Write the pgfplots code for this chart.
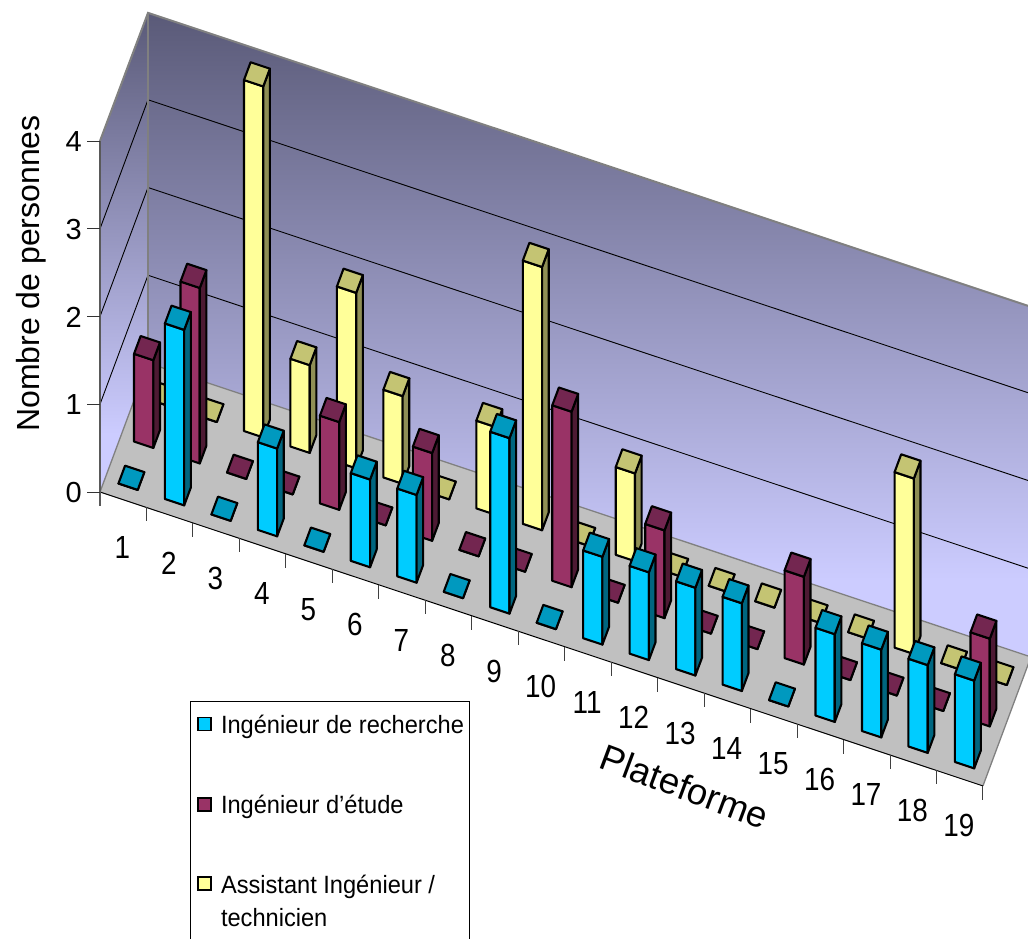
\documentclass[border=0pt]{standalone}
\usepackage{pgfplots}
\pgfplotsset{compat=1.18}
\usepackage{fontspec}
\setmainfont{Liberation Sans}
\definecolor{cF}{HTML}{00CCFF}\definecolor{cS}{HTML}{006680}\definecolor{cT}{HTML}{0099BF}
\definecolor{mF}{HTML}{993366}\definecolor{mS}{HTML}{4D1A33}\definecolor{mT}{HTML}{732650}
\definecolor{yF}{HTML}{FFFF99}\definecolor{yS}{HTML}{8F8F55}\definecolor{yT}{HTML}{C4C473}
\definecolor{wallTop}{HTML}{5A5A78}\definecolor{wallBot}{HTML}{CCCCFF}
\definecolor{floorC}{HTML}{C0C0C0}\definecolor{edgeC}{HTML}{808080}
\pgfdeclareverticalshading{wallshade}{100bp}{color(0bp)=(wallBot);color(31bp)=(wallBot);color(75bp)=(wallTop);color(100bp)=(wallTop)}
\newcommand\tickfont{\fontsize{32}{36}\selectfont}
\newcommand\tl[1]{\scalebox{0.87}[1]{#1}}
\def\rowy{0}\def\rowa{0}\def\colF{cF}\def\colS{cS}\def\colT{cT}
\newcommand\Row[5]{\def\rowy{#1}\def\rowa{#2}\def\colF{#3}\def\colS{#4}\def\colT{#5}}
% one bar: platform number, number of persons
\newcommand\Bar[2]{%
  \pgfmathsetmacro\xa{#1-\rowa-0.2075}%
  \pgfmathsetmacro\xb{#1-\rowa+0.2075}%
  \pgfmathsetmacro\ya{\rowy-0.069}%
  \pgfmathsetmacro\yb{\rowy+0.069}%
  \edef\tmp{%
    \noexpand\addplot3[barface,fill=\colF] coordinates {(\xa,\ya,0)(\xb,\ya,0)(\xb,\ya,#2)(\xa,\ya,#2)} -- cycle;
    \noexpand\addplot3[barface,fill=\colS] coordinates {(\xb,\ya,0)(\xb,\yb,0)(\xb,\yb,#2)(\xb,\ya,#2)} -- cycle;
    \noexpand\addplot3[barface,fill=\colT] coordinates {(\xa,\ya,#2)(\xb,\ya,#2)(\xb,\yb,#2)(\xa,\yb,#2)} -- cycle;
  }\tmp
}
\pgfplotsset{barface/.style={draw=black,line width=2.1pt,line join=round,forget plot}}
\begin{document}
\begin{tikzpicture}[x=1pt,y=1pt]
\path[use as bounding box,clip] (0,0) rectangle (1028,939);
\begin{axis}[
  at={(100pt,447pt)},anchor=origin,
  x={(46.47pt,-15.47pt)},y={(48pt,129pt)},z={(0pt,87.75pt)},
  xmin=0,xmax=19,ymin=0,ymax=1,zmin=0,zmax=4,
  hide axis,clip=false,
  legend style={at={(axis cs:1.937,0,-2.04)},anchor=north west,draw=black,line width=0.8pt,
    fill=white,inner xsep=7pt,inner ysep=12pt,
    font=\fontsize{25}{33}\selectfont,
    nodes={text depth=},
    /tikz/row sep=52.5pt,/tikz/column sep=7pt},
  legend cell align=left,
]
% walls
\shade[shading=wallshade] (axis cs:0,0,0)--(axis cs:0,1,0)--(axis cs:0,1,3.99)--(axis cs:0,0,4)--cycle;
\shade[shading=wallshade] (axis cs:0,1,0)--(axis cs:19,1,0)--(axis cs:19,1,3.99)--(axis cs:0,1,3.99)--cycle;
% grid
\draw[black,line width=0.9pt] (axis cs:0,0,1)--(axis cs:0,1,1)--(axis cs:19,1,1);
\draw[black,line width=0.9pt] (axis cs:0,0,2)--(axis cs:0,1,2)--(axis cs:19,1,2);
\draw[black,line width=0.9pt] (axis cs:0,0,3)--(axis cs:0,1,3)--(axis cs:19,1,3);
\draw[edgeC,line width=2pt] (axis cs:0,0,4)--(axis cs:0,1,3.99)--(axis cs:19,1,3.99);
\draw[edgeC,line width=2pt] (axis cs:0,1,0)--(axis cs:0,1,3.99);
% floor
\fill[floorC] (axis cs:0,0,0)--(axis cs:19,0,0)--(axis cs:19,1,0)--(axis cs:0,1,0)--cycle;
\draw[edgeC,line width=1.3pt] (axis cs:19,0,0)--(axis cs:19,1,0)--(axis cs:0,1,0)--(axis cs:0,0,0);
\draw[black,line width=1pt] (axis cs:0,0,0)--(axis cs:19,0,0);
% z axis
\draw[black!65,line width=1.8pt] ([yshift=-14pt]axis cs:0,0,0)--(axis cs:0,0,4);
\pgfplotsinvokeforeach{0,...,4}{
  \draw[black!80,line width=0.9pt] (axis cs:0,0,#1)--++(-13pt,0pt);
  \node[anchor=east,inner sep=0pt,font=\fontsize{29}{32}\selectfont] at (axis cs:0,0,#1) [xshift=-18pt,yshift=-0.5pt] {#1};
}
\pgfplotsinvokeforeach{1,...,19}{
  \draw[black!75,line width=1pt] (axis cs:#1,0,0)--++(0pt,-14pt);
}
\pgfplotsinvokeforeach{1,...,19}{
  \node[inner sep=0pt,font=\tickfont] at (axis cs:#1,0,0) [xshift=-24pt,yshift=-40pt] {\tl{#1}};
}
\node[xshift=-69pt,rotate=90,inner sep=0pt,font=\fontsize{32}{36}\selectfont] at (axis cs:0,0,2.49) {Nombre de personnes};
\node[rotate=-20.5,inner sep=0pt,font=\fontsize{36.5}{40}\selectfont] at (axis cs:12.58,0,-1.14) {Plateforme};
% assistant ingenieur / technicien
\Row{0.82}{0.47}{yF}{yS}{yT}
\Bar{1}{0}\Bar{2}{0}\Bar{3}{4}\Bar{4}{1}\Bar{5}{2}\Bar{6}{1}\Bar{7}{0}\Bar{8}{1}\Bar{9}{3}\Bar{10}{0}
\Bar{11}{1}\Bar{12}{0}\Bar{13}{0}\Bar{14}{0}\Bar{15}{0}\Bar{16}{0}\Bar{17}{2}\Bar{18}{0}\Bar{19}{0}
% ingenieur d'etude
\Row{0.495}{0.50}{mF}{mS}{mT}
\Bar{1}{1}\Bar{2}{2}\Bar{3}{0}\Bar{4}{0}\Bar{5}{1}\Bar{6}{0}\Bar{7}{1}\Bar{8}{0}\Bar{9}{0}\Bar{10}{2}
\Bar{11}{0}\Bar{12}{1}\Bar{13}{0}\Bar{14}{0}\Bar{15}{1}\Bar{16}{0}\Bar{17}{0}\Bar{18}{0}\Bar{19}{1}
% ingenieur de recherche
\Row{0.17}{0.50}{cF}{cS}{cT}
\Bar{1}{0}\Bar{2}{2}\Bar{3}{0}\Bar{4}{1}\Bar{5}{0}\Bar{6}{1}\Bar{7}{1}\Bar{8}{0}\Bar{9}{2}\Bar{10}{0}
\Bar{11}{1}\Bar{12}{1}\Bar{13}{1}\Bar{14}{1}\Bar{15}{0}\Bar{16}{1}\Bar{17}{1}\Bar{18}{1}\Bar{19}{1}
\addlegendimage{legend image code/.code={\draw[fill=cF,line width=1.6pt] (0pt,-3.5pt) rectangle (13pt,9.5pt);}}
\addlegendentry{\makebox[239pt][l]{\scalebox{0.945}[1]{Ingénieur de recherche}}}
\addlegendimage{legend image code/.code={\draw[fill=mF,line width=1.6pt] (0pt,-3.5pt) rectangle (13pt,9.5pt);}}
\addlegendentry{\scalebox{0.945}[1]{Ingénieur d’étude}}
\addlegendimage{legend image code/.code={\path[draw=none,fill=none] (0pt,-3.5pt) rectangle (13pt,9.5pt);\draw[overlay,fill=yF,line width=1.6pt] (0pt,31pt) rectangle (13pt,44pt);}}
\addlegendentry{\parbox[t]{230pt}{\scalebox{0.945}[1]{Assistant Ingénieur /}\\\scalebox{0.945}[1]{technicien}\rule[-40pt]{0pt}{1pt}}}
\end{axis}
\end{tikzpicture}
\end{document}
